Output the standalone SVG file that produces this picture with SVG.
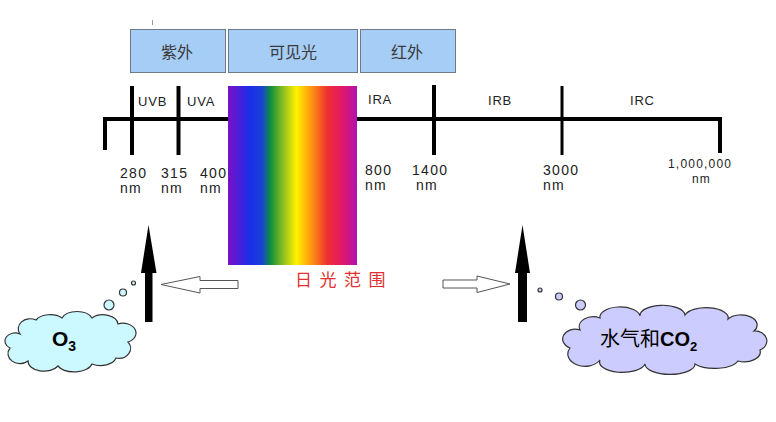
<svg xmlns="http://www.w3.org/2000/svg" width="776" height="422" viewBox="0 0 776 422">
<defs>
<linearGradient id="spec" x1="0" y1="0" x2="1" y2="0">
<stop offset="0" stop-color="#7A10C8"/>
<stop offset="0.17" stop-color="#1A2EE8"/>
<stop offset="0.26" stop-color="#1A40D8"/>
<stop offset="0.33" stop-color="#0E8F3C"/>
<stop offset="0.43" stop-color="#90C020"/>
<stop offset="0.53" stop-color="#FFF200"/>
<stop offset="0.64" stop-color="#FF9A10"/>
<stop offset="0.77" stop-color="#EE3030"/>
<stop offset="0.89" stop-color="#E0186A"/>
<stop offset="1" stop-color="#B010B0"/>
</linearGradient>
<style>
.box{fill:#A6CDF5;stroke:#6E7A88;stroke-width:1}
.boxt{font-family:"Noto Sans CJK SC",sans-serif;font-size:16px;fill:#3a3a3a;text-anchor:middle}
.ax{stroke:#000;stroke-width:4;fill:none}
.lbl{font-family:"Liberation Sans",Arial,sans-serif;font-size:13px;letter-spacing:0.8px;fill:#222}
.num{font-family:"Liberation Sans",Arial,sans-serif;font-size:14px;letter-spacing:1.3px;fill:#222}
.sm{font-family:"Liberation Sans",Arial,sans-serif;font-size:12px;letter-spacing:1.2px;fill:#222}
.hol{fill:#fff;stroke:#555;stroke-width:1}
.blk{fill:#000}
.cloud{stroke:#333;stroke-width:1.2}
</style>
</defs>
<rect width="776" height="422" fill="#fff"/>
<line x1="152.5" y1="20" x2="152.5" y2="25" stroke="#999" stroke-width="1"/>

<g id="band-uv">
<rect class="box" x="130.5" y="29.5" width="95" height="43"/>
<text class="boxt" x="177" y="58">紫外</text>
</g>
<g id="band-visible">
<rect class="box" x="228.5" y="29.5" width="129" height="43"/>
<text class="boxt" x="293" y="58">可见光</text>
</g>
<g id="band-ir">
<rect class="box" x="360.5" y="29.5" width="95" height="43"/>
<text class="boxt" x="407" y="58">红外</text>
</g>

<g id="axis">
<polyline class="ax" points="105,150 105,119 720,119 720,153"/>
<line class="ax" x1="132" y1="86" x2="132" y2="155"/>
<line class="ax" x1="178.5" y1="86" x2="178.5" y2="155"/>
<line class="ax" x1="434" y1="85" x2="434" y2="155"/>
<line x1="562" y1="86" x2="562" y2="155" stroke="#000" stroke-width="3"/>
<text class="lbl" x="138" y="106">UVB</text>
<text class="lbl" x="187" y="106">UVA</text>
<text class="lbl" x="368" y="104">IRA</text>
<text class="lbl" x="488" y="105">IRB</text>
<text class="lbl" x="630" y="105">IRC</text>
<text class="num" x="120" y="178">280</text>
<text class="num" x="120" y="193">nm</text>
<text class="num" x="161" y="178">315</text>
<text class="num" x="161" y="193">nm</text>
<text class="num" x="200" y="178">400</text>
<text class="num" x="200" y="193">nm</text>
<text class="num" x="365" y="175">800</text>
<text class="num" x="365" y="190">nm</text>
<text class="num" x="412" y="175">1400</text>
<text class="num" x="416" y="190">nm</text>
<text class="num" x="543" y="175">3000</text>
<text class="num" x="543" y="190">nm</text>
<text class="sm" x="668" y="168">1,000,000</text>
<text class="sm" x="692" y="183">nm</text>
</g>

<g id="spectrum">
<rect x="228" y="86" width="129" height="179" fill="url(#spec)"/>
<text x="295" y="286" font-family="&quot;Noto Sans CJK SC&quot;,sans-serif" font-size="17" letter-spacing="7.5" fill="#E03030">日光范围</text>
</g>

<g id="connectors">
<polygon class="hol" points="161,284.5 200,276.5 200,280.5 238,280.5 238,288.5 200,288.5 200,293"/>
<polygon class="hol" points="510,284 477,276 477,280 443,280 443,288 477,288 477,292.5"/>
<polygon class="blk" points="148.5,225 156.5,273 152.5,273 152.5,322 145,322 145,273 141,273"/>
<polygon class="blk" points="522.5,225 530,273 527,273 527,322 518,322 518,273 515,273"/>
</g>

<g id="cloud-o3">
<circle class="cloud" cx="133.5" cy="283" r="2" fill="#CCF8FF"/>
<circle class="cloud" cx="123" cy="292.5" r="3.5" fill="#CCF8FF"/>
<circle class="cloud" cx="109" cy="305" r="5" fill="#CCF8FF"/>
<path class="cloud" fill="#CCF8FF" d="M 20,334 A 12,10 0 0 1 36,320 A 16,10 0 0 1 62,318 A 16,10 0 0 1 92,318 A 15,10 0 0 1 118,324 A 12,9 0 0 1 128,342 A 12,10 0 0 1 116,358 A 16,10 0 0 1 92,364 A 18,10 0 0 1 58,366 A 16,10 0 0 1 28,361 A 12,10 0 0 1 10,348 A 10,8 0 0 1 20,334 Z"/>
<text x="52" y="346" font-family="&quot;Liberation Sans&quot;,Arial,sans-serif" font-weight="bold" font-size="21" fill="#000">O<tspan font-size="14" dy="5">3</tspan></text>
</g>

<g id="cloud-h2o-co2">
<circle class="cloud" cx="540" cy="290" r="2" fill="#CCCCFF"/>
<circle class="cloud" cx="559" cy="296.5" r="3.5" fill="#CCCCFF"/>
<circle class="cloud" cx="580.5" cy="305" r="5" fill="#CCCCFF"/>
<path class="cloud" fill="#CCCCFF" d="M 580,330 A 14,10 0 0 1 600,318 A 20,10 0 0 1 640,316 A 22,10 0 0 1 685,315 A 22,10 0 0 1 728,319 A 16,10 0 0 1 754,331 A 12,10 0 0 1 760,350 A 16,10 0 0 1 738,361 A 24,10 0 0 1 695,364 A 24,10 0 0 1 645,364 A 22,10 0 0 1 600,360 A 14,10 0 0 1 570,348 A 10,8 0 0 1 580,330 Z"/>
<text x="600" y="346" font-family="&quot;Noto Sans CJK SC&quot;,sans-serif" font-size="20" fill="#000">水气和<tspan font-family="&quot;Liberation Sans&quot;,Arial,sans-serif" font-weight="bold">CO</tspan><tspan font-family="&quot;Liberation Sans&quot;,Arial,sans-serif" font-weight="bold" font-size="13" dy="5">2</tspan></text>
</g>
</svg>
